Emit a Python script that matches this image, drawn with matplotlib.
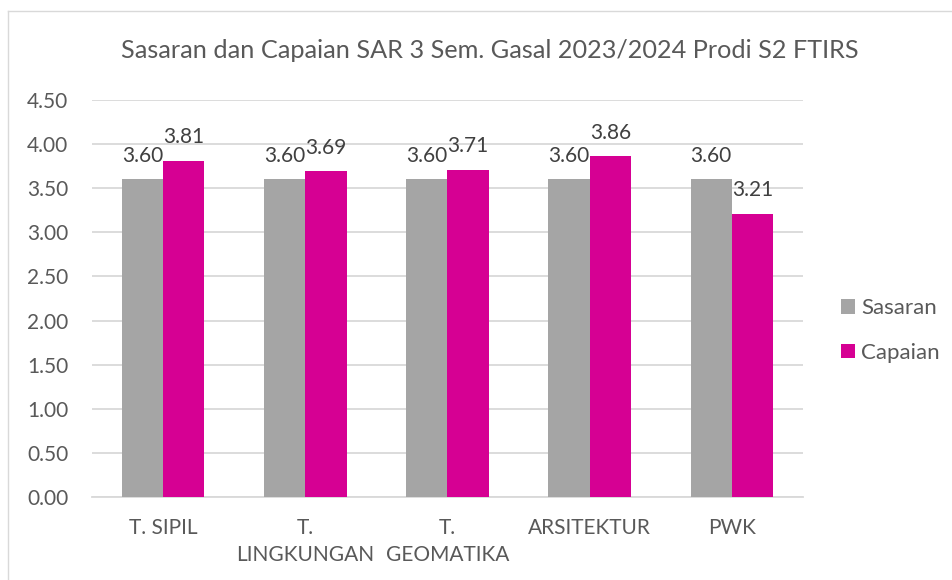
import numpy as np
import matplotlib.pyplot as plt
from matplotlib.lines import Line2D

categories = ['T. SIPIL', 'T.\nLINGKUNGAN', 'T.\nGEOMATIKA', 'ARSITEKTUR', 'PWK']
sasaran = [3.60, 3.60, 3.60, 3.60, 3.60]
capaian = [3.81, 3.69, 3.71, 3.86, 3.21]
yticks = np.arange(0, 4.51, 0.5)

plt.rcParams['font.family'] = ['Lato', 'DejaVu Sans']
txt = '#595959'

fig = plt.figure(figsize=(9.53, 5.8), dpi=100)
ax = fig.add_axes([0.0965, 0.1431, 0.7461, 0.6845])

x = np.arange(len(categories))
w = 0.29
b1 = ax.bar(x - w / 2, sasaran, w, color='#A5A5A5', label='Sasaran', zorder=3)
b2 = ax.bar(x + w / 2, capaian, w, color='#D60093', label='Capaian', zorder=3)

for bars, vals in ((b1, sasaran), (b2, capaian)):
    for r, v in zip(bars, vals):
        ax.annotate('%.2f' % v, (r.get_x() + r.get_width() / 2, v),
                    xytext=(0, 10), textcoords='offset points',
                    ha='center', va='bottom', fontsize=15, color='#404040')

ax.set_xlim(-0.5, len(categories) - 0.5)
ax.set_ylim(0, 4.5)
ax.set_yticks(yticks)
ax.set_yticklabels(['%.2f' % t for t in yticks])
ax.set_xticks(x)
ax.set_xticklabels(categories, linespacing=1.45)
ax.tick_params(axis='both', length=0, labelsize=15, colors=txt)
ax.tick_params(axis='y', pad=17)
ax.tick_params(axis='x', pad=15)
ax.grid(axis='y', color='#D9D9D9', linewidth=1.3, zorder=0)
for s in ['top', 'right', 'left']:
    ax.spines[s].set_visible(False)
ax.spines['bottom'].set_color('#D9D9D9')
ax.spines['bottom'].set_linewidth(1.3)

fig.text(0.514, 0.913, 'Sasaran dan Capaian SAR 3 Sem. Gasal 2023/2024 Prodi S2 FTIRS',
         ha='center', va='center', fontsize=18.2, color=txt)

leg = fig.legend(handles=[b1, b2], loc='center left', bbox_to_anchor=(0.862, 0.43),
                 frameon=False, fontsize=16, labelcolor=txt, handlelength=0.6,
                 handleheight=0.6, handletextpad=0.3, labelspacing=1.1)

# chart frame (only left/top visible in the reference)
fig.add_artist(Line2D([8 / 953, 8 / 953], [0, 1 - 11 / 580], transform=fig.transFigure,
                      color='#D9D9D9', linewidth=1))
fig.add_artist(Line2D([8 / 953, 1], [1 - 11 / 580, 1 - 11 / 580], transform=fig.transFigure,
                      color='#D9D9D9', linewidth=1))

fig.savefig('out.png', dpi=100)
